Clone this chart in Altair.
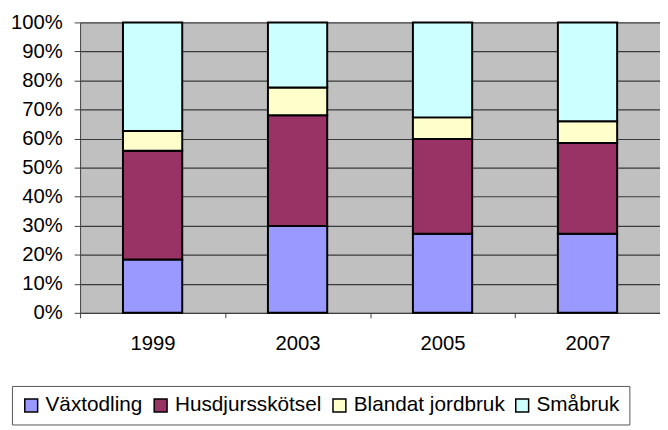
import altair as alt
import pandas as pd

years = ["1999", "2003", "2005", "2007"]
categories = ["Växtodling", "Husdjursskötsel", "Blandat jordbruk", "Småbruk"]
colors = ["#9999FF", "#993366", "#FFFFCC", "#CCFFFF"]
vaxtodling = [18.4, 29.9, 27.2, 27.2]
husdjur = [37.4, 38.1, 32.7, 31.3]
blandat = [6.8, 9.6, 7.4, 7.5]
smabruk = [37.4, 22.4, 32.7, 34.0]
y_ticks = [0, 0.1, 0.2, 0.3, 0.4, 0.5, 0.6, 0.7, 0.8, 0.9, 1.0]

series = [vaxtodling, husdjur, blandat, smabruk]
rows = []
for ci, (cat, vals) in enumerate(zip(categories, series)):
    for yr, v in zip(years, vals):
        rows.append({"year": yr, "cat": cat, "value": v, "idx": ci})
df = pd.DataFrame(rows)

FONT = "Liberation Sans"

chart = alt.Chart(df).mark_bar(width=60, stroke="black", strokeWidth=2).encode(
    x=alt.X("year:N", sort=years,
            scale=alt.Scale(paddingInner=0, paddingOuter=0),
            axis=alt.Axis(title=None, labelAngle=0, tickBand="extent",
                          labelFont=FONT, labelFontSize=20.5, labelColor="black",
                          tickSize=5, tickColor="#404040", domainColor="#404040",
                          labelPadding=16, grid=False)),
    y=alt.Y("value:Q", stack="normalize",
            scale=alt.Scale(domain=[0, 1], nice=False),
            axis=alt.Axis(title=None, format=".0%", values=y_ticks,
                          labelFont=FONT, labelFontSize=20.5, labelColor="black",
                          tickSize=6, tickColor="#404040", domainColor="#404040",
                          labelPadding=12, grid=True, gridColor="#3a3a3a",
                          gridOpacity=1, gridWidth=1.2)),
    color=alt.Color("cat:N",
                    scale=alt.Scale(domain=categories, range=colors),
                    legend=alt.Legend(title=None, orient="none", legendX=-69, legendY=368,
                                      direction="horizontal", strokeColor="#555555",
                                      fillColor="white", padding=9,
                                      symbolType="square", symbolSize=170,
                                      symbolStrokeColor="black", symbolStrokeWidth=1.5,
                                      symbolOpacity=1,
                                      labelFont=FONT, labelFontSize=21, labelColor="black",
                                      labelOffset=4, columnPadding=7)),
    order=alt.Order("idx:Q"),
).properties(
    width=587, height=294,
    autosize=alt.AutoSizeParams(type="none"),
    padding={"left": 73, "top": 12, "right": 0, "bottom": 116},
).configure_view(fill="#C0C0C0", stroke=None)

chart.save("out.html", embed_options={"renderer": "svg", "actions": False})
